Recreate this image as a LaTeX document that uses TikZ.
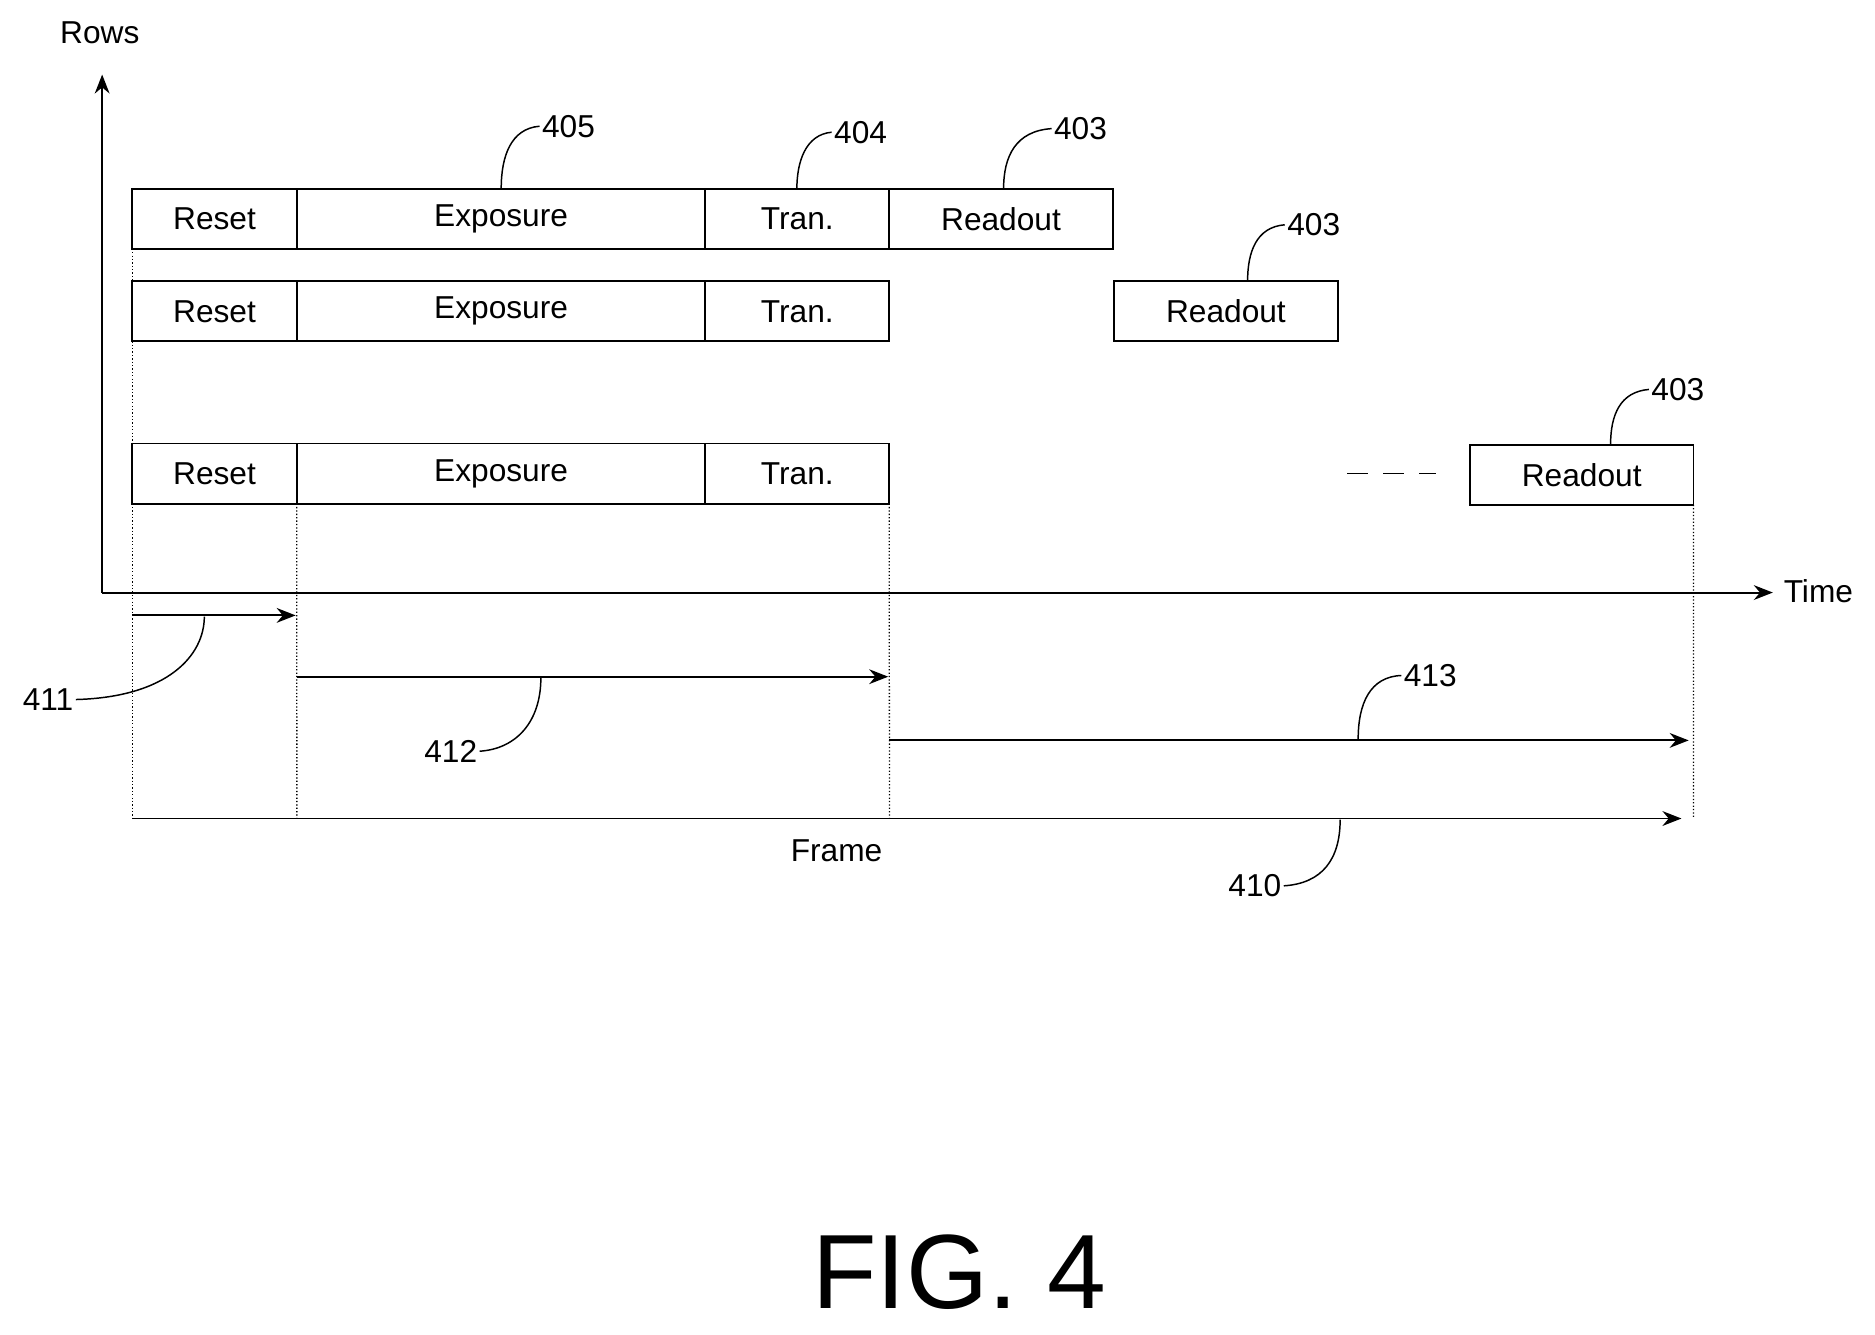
\documentclass[tikz,border=0pt]{standalone}
\usepackage{fontspec}
\setmainfont{Liberation Sans}
\usetikzlibrary{positioning,arrows.meta}
\tikzset{
  box/.style={draw, line width=0.9pt, minimum height=1cm, inner sep=0pt, outer sep=0pt, font=\fontsize{15}{17}\selectfont},
  reset/.style={box, minimum width=2.74cm},
  expo/.style={box, minimum width=6.8cm},
  tran/.style={box, minimum width=3.06cm},
  rdout/.style={box, minimum width=3.72cm},
  lbl/.style={font=\fontsize{15}{17}\selectfont, inner sep=1pt},
  guide/.style={densely dotted, line width=0.6pt},
  span/.style={line width=0.9pt, -{Stealth[length=9pt,width=7pt]}},
  lead/.style={line width=0.7pt}
}
\begin{document}
\begin{tikzpicture}[x=0.02cm,y=-0.02cm]
\useasboundingbox (0,0) rectangle (1560,1110);
% axes
\coordinate (o) at (85,493);
\coordinate (ytop) at (85,62);
\coordinate (xend) at (1475,493);
\draw[span] (o) -- (ytop);
\draw[span] (o) -- (xend);
\node[lbl] (rows) at (83,27) {Rows};
\node[lbl, right] (time) at (1482,492) {Time};
% row 1
\node[reset, anchor=north west] (r1) at (110,157) {Reset};
\node[expo, right=0pt of r1] (e1) {Exposure};
\node[tran, right=0pt of e1] (t1) {Tran.};
\node[rdout, right=0pt of t1] (d1) {Readout};
% row 2
\node[reset, anchor=north west] (r2) at (110,234) {Reset};
\node[expo, right=0pt of r2] (e2) {Exposure};
\node[tran, right=0pt of e2] (t2) {Tran.};
\node[rdout, anchor=north west] (d2) at (927,234) {Readout};
% row 3
\node[reset, anchor=north west] (r3) at (110,369) {Reset};
\node[expo, right=0pt of r3] (e3) {Exposure};
\node[tran, right=0pt of e3] (t3) {Tran.};
\node[rdout, anchor=north west] (d3) at (1223,370) {Readout};
\draw[dash pattern=on 10pt off 7pt, line width=0.8pt] (1121,394) -- (1195,394);
% guides
\coordinate (g0) at (110,681);
\coordinate (g1) at (247,681);
\coordinate (g2) at (740,681);
\coordinate (g3) at (1409,681);
\draw[guide] (r1.south west) -- (r2.north west);
\draw[guide] (r2.south west) -- (r3.north west);
\draw[guide] (r3.south west) -- (g0);
\draw[guide] (e3.south west) -- (g1);
\draw[guide] (t3.south east) -- (g2);
\draw[guide] (d3.south east) -- (g3);
% spans
\coordinate (a1) at (110,512);  \coordinate (b1) at (246,512);
\coordinate (a2) at (247,563);  \coordinate (b2) at (739,563);
\coordinate (a3) at (740,616);  \coordinate (b3) at (1405,616);
\coordinate (b0) at (1399,681);
\draw[span] (a1) -- (b1);
\draw[span] (a2) -- (b2);
\draw[span] (a3) -- (b3);
\draw[span] (g0) -- (b0);
\node[lbl] (frame) at (696,708) {Frame};
% reference numerals
\node[lbl] (n411) at (40,582) {411};
\draw[lead] (n411.east) .. controls (140,580) and (170,545) .. (170,513);
\node[lbl] (n412) at (375,625) {412};
\draw[lead] (n412.east) .. controls (430,623) and (450,600) .. (450,564);
\node[lbl] (n413) at (1190,562) {413};
\draw[lead] (n413.west) .. controls (1140,563) and (1130,585) .. (1130,615);
\node[lbl] (n410) at (1044,737) {410};
\draw[lead] (n410.east) .. controls (1100,735) and (1115,715) .. (1115,682);
\node[lbl] (n405) at (473,105) {405};
\draw[lead] (n405.west) .. controls (425,107) and (417,130) .. (417,157);
\node[lbl] (n404) at (716,110) {404};
\draw[lead] (n404.west) .. controls (670,112) and (663,135) .. (663,157);
\node[lbl] (n403a) at (899,107) {403};
\draw[lead] (n403a.west) .. controls (845,109) and (835,130) .. (835,157);
\node[lbl] (n403b) at (1093,187) {403};
\draw[lead] (n403b.west) .. controls (1045,189) and (1038,210) .. (1038,234);
\node[lbl] (n403c) at (1396,324) {403};
\draw[lead] (n403c.west) .. controls (1348,326) and (1340,345) .. (1340,370);
% caption
\node[font=\fontsize{50}{56}\selectfont] (fig) at (798,1058) {FIG. 4};
\end{tikzpicture}
\end{document}
